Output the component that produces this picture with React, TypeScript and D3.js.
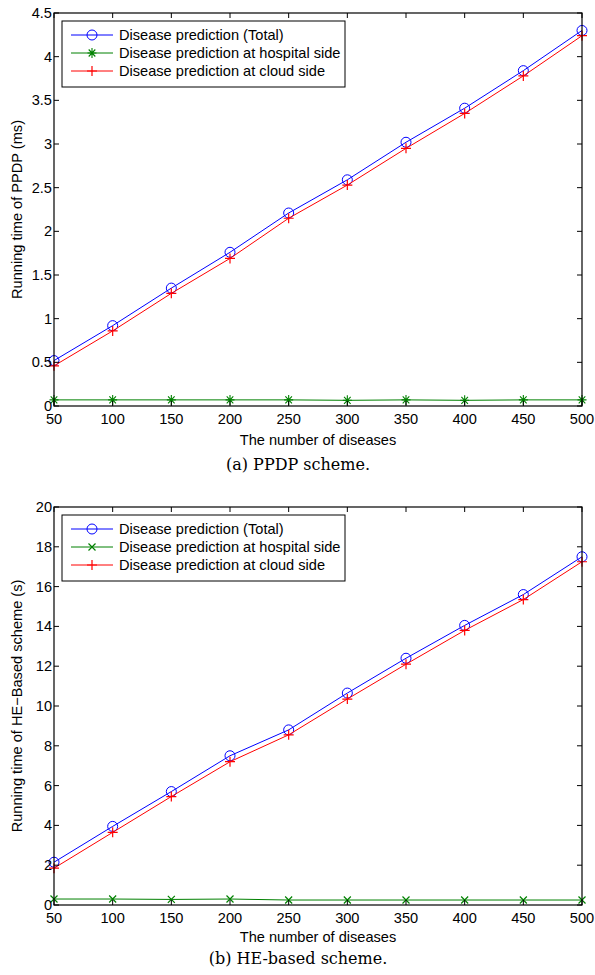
import React from "react";
import * as d3 from "d3";

const diseases = [50, 100, 150, 200, 250, 300, 350, 400, 450, 500];

// (a) PPDP scheme, ms
const ppdpTotal = [0.52, 0.92, 1.35, 1.76, 2.21, 2.59, 3.02, 3.41, 3.84, 4.30];
const ppdpHospital = [0.07, 0.07, 0.07, 0.07, 0.07, 0.065, 0.07, 0.065, 0.07, 0.07];
const ppdpCloud = [0.46, 0.86, 1.29, 1.69, 2.15, 2.53, 2.95, 3.35, 3.78, 4.24];
const ppdpTicks = [0, 0.5, 1, 1.5, 2, 2.5, 3, 3.5, 4, 4.5];

// (b) HE-based scheme, s
const heTotal = [2.15, 3.95, 5.7, 7.5, 8.8, 10.65, 12.4, 14.05, 15.6, 17.5];
const heHospital = [0.3, 0.3, 0.28, 0.3, 0.25, 0.25, 0.25, 0.25, 0.25, 0.25];
const heCloud = [1.85, 3.65, 5.45, 7.2, 8.55, 10.35, 12.1, 13.8, 15.35, 17.25];
const heTicks = [0, 2, 4, 6, 8, 10, 12, 14, 16, 18, 20];

const legendLabels = [
  "Disease prediction (Total)",
  "Disease prediction at hospital side",
  "Disease prediction at cloud side",
];

const BLUE = "#0000ff";
const GREEN = "#008000";
const RED = "#ff0000";
const FONT = "'Liberation Sans', Arial, sans-serif";
const FS = 14.6;

function Marker({ kind, x, y, color }) {
  if (kind === "o") return <circle cx={x} cy={y} r={5} fill="none" stroke={color} strokeWidth={1} />;
  if (kind === "+")
    return (
      <path d={`M${x - 5},${y}H${x + 5}M${x},${y - 5}V${y + 5}`} stroke={color} strokeWidth={1.2} />
    );
  if (kind === "x")
    return (
      <path d={`M${x - 3.5},${y - 3.5}L${x + 3.5},${y + 3.5}M${x - 3.5},${y + 3.5}L${x + 3.5},${y - 3.5}`} stroke={color} strokeWidth={1.2} />
    );
  // asterisk
  return (
    <path
      d={`M${x - 4.5},${y}H${x + 4.5}M${x},${y - 5}V${y + 5}M${x - 3.3},${y - 3.5}L${x + 3.3},${y + 3.5}M${x - 3.3},${y + 3.5}L${x + 3.3},${y - 3.5}`}
      stroke={color}
      strokeWidth={1.1}
    />
  );
}

function Panel({ top, bottom, yMax, yTicks, series, yLabel, caption, captionGap, xLabelGap, hospMarker }) {
  const left = 54, right = 582, plotTop = top, plotBottom = bottom;
  const x = d3.scaleLinear().domain([50, 500]).range([left, right]);
  const y = d3.scaleLinear().domain([0, yMax]).range([plotBottom, plotTop]);
  const line = d3.line<number>().x((d, i) => x(diseases[i])).y(d => y(d));
  const tl = 5;
  const kinds = ["o", hospMarker, "+"];
  const colors = [BLUE, GREEN, RED];
  const lx = left + 8, ly = plotTop + 8;
  return (
    <g fontFamily={FONT}>
      {/* data */}
      {series.map((s, k) => (
        <g key={k}>
          <path d={line(s)} fill="none" stroke={colors[k]} strokeWidth={1} />
          {s.map((v, i) => (
            <Marker key={i} kind={kinds[k]} x={x(diseases[i])} y={y(v)} color={colors[k]} />
          ))}
        </g>
      ))}
      {/* box & ticks */}
      <rect x={left} y={plotTop} width={right - left} height={plotBottom - plotTop} fill="none" stroke="#000" strokeWidth={1.2} />
      {diseases.map(d => (
        <g key={d}>
          <line x1={x(d)} x2={x(d)} y1={plotBottom} y2={plotBottom - tl} stroke="#000" />
          <line x1={x(d)} x2={x(d)} y1={plotTop} y2={plotTop + tl} stroke="#000" />
          <text x={x(d)} y={plotBottom + 18} textAnchor="middle" fontSize={FS}>{d}</text>
        </g>
      ))}
      {yTicks.map(t => (
        <g key={t}>
          <line x1={left} x2={left + tl} y1={y(t)} y2={y(t)} stroke="#000" />
          <line x1={right} x2={right - tl} y1={y(t)} y2={y(t)} stroke="#000" />
          <text x={left - 2} y={y(t) + 5} textAnchor="end" fontSize={FS}>{t}</text>
        </g>
      ))}
      <text x={(left + right) / 2} y={plotBottom + xLabelGap} textAnchor="middle" fontSize={FS}>
        The number of diseases
      </text>
      <text transform={`translate(22,${(plotTop + plotBottom) / 2}) rotate(-90)`} textAnchor="middle" fontSize={FS}>
        {yLabel}
      </text>
      {/* legend */}
      <rect x={lx} y={ly} width={283} height={66} fill="#fff" stroke="#000" strokeWidth={1} />
      {legendLabels.map((lab, k) => {
        const ry = ly + 14 + k * 18;
        return (
          <g key={k}>
            <line x1={lx + 9} x2={lx + 51} y1={ry} y2={ry} stroke={colors[k]} />
            <Marker kind={kinds[k]} x={lx + 30} y={ry} color={colors[k]} />
            <text x={lx + 57} y={ry + 5} fontSize={FS}>{lab}</text>
          </g>
        );
      })}
      <text x={298} y={plotBottom + captionGap} textAnchor="middle" fontSize={16} fontFamily="'DejaVu Serif', 'Liberation Serif', serif">
        {caption}
      </text>
    </g>
  );
}

export default function App() {
  return (
    <svg width={595} height={975} style={{ position: "absolute", left: 0, top: 0, background: "#fff" }}>
      <rect width={595} height={975} fill="#fff" />
      <Panel
        top={13}
        bottom={406}
        yMax={4.5}
        yTicks={ppdpTicks}
        series={[ppdpTotal, ppdpHospital, ppdpCloud]}
        yLabel="Running time of PPDP (ms)"
        caption="(a) PPDP scheme."
        xLabelGap={39}
        captionGap={64}
        hospMarker="*"
      />
      <Panel
        top={507}
        bottom={905}
        yMax={20}
        yTicks={heTicks}
        series={[heTotal, heHospital, heCloud]}
        yLabel="Running time of HE−Based scheme (s)"
        caption="(b) HE-based scheme."
        xLabelGap={37}
        captionGap={59}
        hospMarker="x"
      />
    </svg>
  );
}
